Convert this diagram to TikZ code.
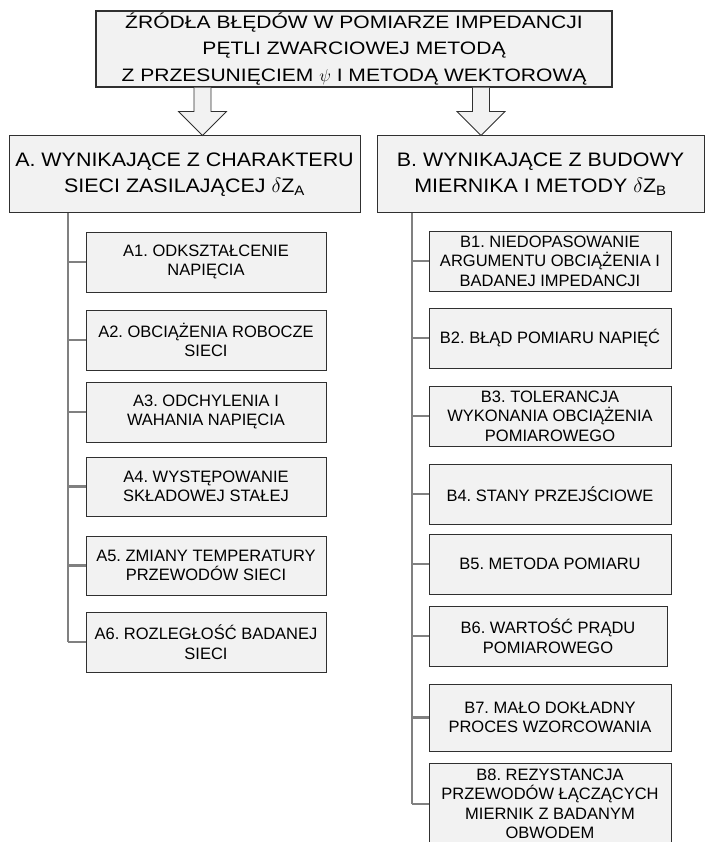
\documentclass[tikz,border=0pt]{standalone}
\usepackage{fontspec}
\setmainfont{Liberation Sans}
\newfontfamily\headfont[FakeStretch=1.1]{Liberation Sans}
\newfontfamily\titlefont[FakeStretch=1.17]{Liberation Sans}
\usepackage{tikz}
\usetikzlibrary{calc}
\frenchspacing

\definecolor{boxfill}{HTML}{F2F2F2}
\definecolor{boxline}{HTML}{303030}
\definecolor{linkgray}{HTML}{808080}

\tikzset{
  titlebox/.style={draw=boxline, fill=boxfill, line width=1.2pt, align=center, inner sep=0pt,
    minimum width=516pt, minimum height=76pt, font=\titlefont\fontsize{18}{26.5}\selectfont},
  groupbox/.style={draw=boxline, fill=boxfill, line width=1pt, align=center, inner sep=0pt,
    minimum height=77pt, font=\headfont\fontsize{19.5}{26}\selectfont},
  itembox/.style={draw=boxline, fill=boxfill, line width=0.9pt, align=center, inner sep=0pt,
    minimum width=240pt, minimum height=60pt, font=\fontsize{16.5}{19.5}\selectfont},
  link/.style={draw=linkgray, line width=2.4pt},
  blockarrow/.style={draw=boxline, fill=boxfill, line width=0.8pt}
}

\begin{document}
\begin{tikzpicture}[x=1pt, y=-1pt]
  \useasboundingbox (0,0) rectangle (706,842);
  % Title
  \node[titlebox] (title) at (354,49)
    {ŹRÓDŁA BŁĘDÓW W POMIARZE IMPEDANCJI\\PĘTLI ZWARCIOWEJ METODĄ\\Z PRZESUNIĘCIEM $\psi$ I METODĄ WEKTOROWĄ};
  % Groups
  \node[groupbox, minimum width=351pt] (grpA) at (184.5,174.5)
    {A. WYNIKAJĄCE Z CHARAKTERU\\SIECI ZASILAJĄCEJ $\delta$Z\textsubscript{A}};
  \node[groupbox, minimum width=327pt] (grpB) at (540.5,174.5)
    {B. WYNIKAJĄCE Z BUDOWY\\MIERNIKA I METODY $\delta$Z\textsubscript{B}};
  % Block arrows
  \foreach \x/\t in {202.5/grpA, 481/grpB} {
    \coordinate (s) at (title.south -| \x,0);
    \coordinate (e) at (\t.north -| \x,0);
    \draw[blockarrow] ($(s)+(-8.5,0)$) -- ($(e)+(-8.5,-24)$) -- ($(e)+(-24,-24)$) -- (e)
      -- ($(e)+(24,-24)$) -- ($(e)+(8.5,-24)$) -- ($(s)+(8.5,0)$);
  }
  % A items
  \node[itembox] (a1) at (206,262) {A1. ODKSZTAŁCENIE\\NAPIĘCIA};
  \node[itembox] (a2) at (206,340) {A2. OBCIĄŻENIA ROBOCZE\\SIECI};
  \node[itembox] (a3) at (206,412) {A3. ODCHYLENIA I\\WAHANIA NAPIĘCIA};
  \node[itembox, minimum height=59pt] (a4) at (206,486.5) {A4. WYSTĘPOWANIE\\SKŁADOWEJ STAŁEJ};
  \node[itembox, minimum height=59pt] (a5) at (206,565.5) {A5. ZMIANY TEMPERATURY\\PRZEWODÓW SIECI};
  \node[itembox] (a6) at (206,642) {A6. ROZLEGŁOŚĆ BADANEJ\\SIECI};
  % B items
  \node[itembox, minimum width=242pt] (b1) at (550,261) {B1. NIEDOPASOWANIE\\ARGUMENTU OBCIĄŻENIA I\\BADANEJ IMPEDANCJI};
  \node[itembox, minimum width=242pt] (b2) at (550,338) {B2. BŁĄD POMIARU NAPIĘĆ};
  \node[itembox, minimum width=242pt] (b3) at (550,416) {B3. TOLERANCJA\\WYKONANIA OBCIĄŻENIA\\POMIAROWEGO};
  \node[itembox, minimum width=242pt] (b4) at (550,494) {B4. STANY PRZEJŚCIOWE};
  \node[itembox, minimum width=242pt] (b5) at (550,564) {B5. METODA POMIARU};
  \node[itembox, minimum width=238pt] (b6) at (548,636) {B6. WARTOŚĆ PRĄDU\\POMIAROWEGO};
  \node[itembox, minimum width=242pt, minimum height=67pt] (b7) at (550,717.5) {B7. MAŁO DOKŁADNY\\PROCES WZORCOWANIA};
  \node[itembox, minimum width=242pt, minimum height=82pt] (b8) at (550,804) {B8. REZYSTANCJA\\PRZEWODÓW ŁĄCZĄCYCH\\MIERNIK Z BADANYM\\OBWODEM};
  % Trunks
  \coordinate (trunkA) at (68,0);
  \coordinate (trunkB) at (412,0);
  \draw[link] (trunkA |- grpA.south) -- (trunkA |- a6.west);
  \draw[link] (trunkB |- grpB.south) -- (trunkB |- b8.west);
  \foreach \n in {a1,a2,a3,a4,a5,a6}
    \draw[link] (trunkA |- \n.west) -- (\n.west);
  \foreach \n in {b1,b2,b3,b4,b5,b6,b7,b8}
    \draw[link] (trunkB |- \n.west) -- (\n.west);
\end{tikzpicture}
\end{document}
